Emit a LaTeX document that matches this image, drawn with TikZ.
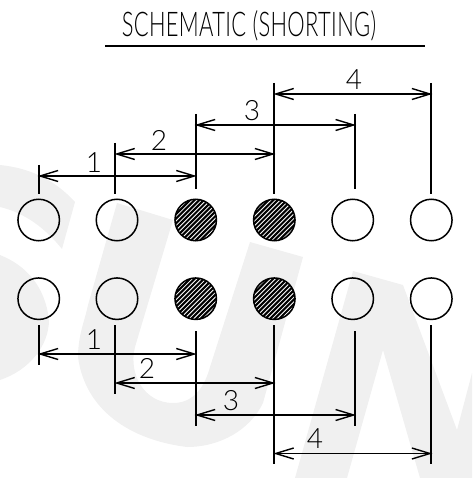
\documentclass[tikz,border=0pt]{standalone}
\usepackage{fontspec}
\newfontfamily\cad{Lato Light}
\usetikzlibrary{arrows.meta}
\definecolor{wm}{HTML}{F0F0F0}
\tikzset{
  pinbase/.style={circle,draw=black,line width=1.5pt,minimum size=41.5pt,inner sep=0pt,fill=white,fill opacity=0,text opacity=1},
  hatched/.style={pinbase,fill opacity=1,path picture={
    \foreach \k in {-44,-39.4,...,46}
      \draw[line width=2.1pt,black] ([shift={(\k-26,26)}]path picture bounding box.center) -- ([shift={(\k+26,-26)}]path picture bounding box.center);}},
  extline/.style={line width=1.8pt,black},
  dimline/.style={line width=1.6pt,black,{Straight Barb[length=18pt,width=11pt,line width=1.4pt]}-{Straight Barb[length=18pt,width=11pt,line width=1.4pt]},shorten <=-1pt,shorten >=-1pt},
  digit/.style={inner sep=0pt,font=\cad\fontsize{28}{28}\selectfont},
}
\begin{document}
\begin{tikzpicture}[x=1pt,y=-1pt]
\useasboundingbox (0,0) rectangle (472,478);
% watermark
\fill[wm] (0,165) .. controls (30,168) and (55,180) .. (75,202) -- (62,249) .. controls (45,228) and (25,213) .. (0,207) -- cycle;
\fill[wm] (0,255) .. controls (25,265) and (45,285) .. (49,320) .. controls (49,345) and (30,370) .. (0,380) -- cycle;
\fill[wm] (117,203) -- (173,220) -- (135,347) .. controls (128,375) and (145,403) .. (173,403) .. controls (195,403) and (205,385) .. (210,367) -- (250,242) -- (303,257) -- (263,403) .. controls (250,430) and (220,447) .. (187,447) .. controls (130,440) and (85,410) .. (78,357) .. controls (78,335) and (85,320) .. (88,305) -- cycle;
\fill[wm] (353,271) -- (403,285) -- (457,430) -- (472,373) -- (472,478) -- (420,478) -- (383,350) -- (347,478) -- (295,478) -- cycle;
% title
\node[inner sep=0pt,anchor=center] (title) at (249,26) {\scalebox{0.645}[1]{\cad\fontsize{34}{34}\selectfont\addfontfeatures{LetterSpace=1.5} SCHEMATIC (SHORTING)}};
\coordinate (ruleL) at (105,46);
\coordinate (ruleR) at (425,46);
\draw[line width=2.4pt] (ruleL) -- (ruleR);
% pins
\foreach \n/\x in {a/38.7,b/117,e/352.7,f/431.3}{
  \node[pinbase] (\n1) at (\x,220) {};
  \node[pinbase] (\n2) at (\x,298.7) {};
}
\foreach \n/\x in {c/195.7,d/274.3}{
  \node[hatched] (\n1) at (\x,220) {};
  \node[hatched] (\n2) at (\x,298.7) {};
}
% top extension ends
\coordinate (ta0) at (38.7,165);  \coordinate (ta1) at (38.7,194);
\coordinate (tb0) at (115.3,143); \coordinate (tb1) at (115.3,194);
\coordinate (tc0) at (195.7,114); \coordinate (tc1) at (195.7,189);
\coordinate (td0) at (274.3,83);  \coordinate (td1) at (274.3,194);
\coordinate (te0) at (355,114);   \coordinate (te1) at (355,189);
\coordinate (tf0) at (431.3,83);  \coordinate (tf1) at (431.3,194);
% bottom extension ends
\coordinate (ba0) at (38.7,325);  \coordinate (ba1) at (38.7,365);
\coordinate (bb0) at (115.3,325); \coordinate (bb1) at (115.3,394);
\coordinate (bc0) at (195.7,331); \coordinate (bc1) at (195.7,426);
\coordinate (bd0) at (274.3,325); \coordinate (bd1) at (274.3,464);
\coordinate (be0) at (355,331);   \coordinate (be1) at (355,426);
\coordinate (bf0) at (431.3,325); \coordinate (bf1) at (431.3,464);
\foreach \n in {a,b,c,d,e,f}{
  \draw[extline] (t\n0) -- (t\n1);
  \draw[extline] (b\n0) -- (b\n1);
}
% dimension lines
\draw[dimline] (ta0 |- 0,176) -- (tc0 |- 0,176);
\draw[dimline] (tb0 |- 0,154) -- (td0 |- 0,154);
\draw[dimline] (tc0 |- 0,125) -- (te0 |- 0,125);
\draw[dimline] (td0 |- 0,94) -- (tf0 |- 0,94);
\draw[dimline] (ba0 |- 0,354) -- (bc0 |- 0,354);
\draw[dimline] (bb0 |- 0,383) -- (bd0 |- 0,383);
\draw[dimline] (bc0 |- 0,415) -- (be0 |- 0,415);
\draw[dimline] (bd0 |- 0,453.5) -- (bf0 |- 0,453.5);
% labels
\node[digit] (lt1) at (94,163) {1};
\node[digit] (lt2) at (159,140) {2};
\node[digit] (lt3) at (252,111) {3};
\node[digit] (lt4) at (354,80) {4};
\node[digit] (lb1) at (94,340) {1};
\node[digit] (lb2) at (147,368) {2};
\node[digit] (lb3) at (231,401) {3};
\node[digit] (lb4) at (315,439) {4};
\end{tikzpicture}
\end{document}
